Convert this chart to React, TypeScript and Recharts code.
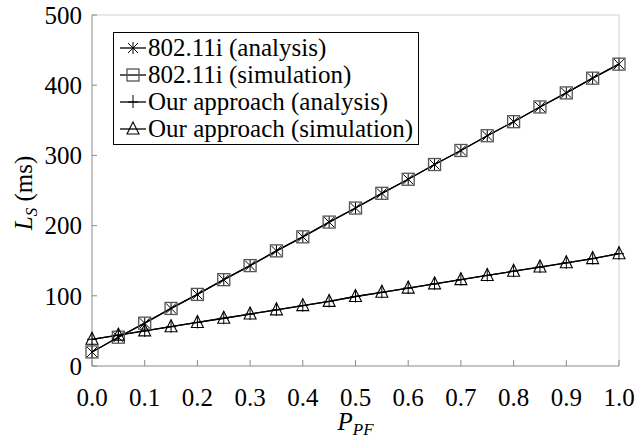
import { LineChart, Line, XAxis, YAxis, ReferenceLine } from "recharts";

const P_PF = [0, 0.05, 0.1, 0.15, 0.2, 0.25, 0.3, 0.35, 0.4, 0.45, 0.5, 0.55, 0.6, 0.65, 0.7, 0.75, 0.8, 0.85, 0.9, 0.95, 1.0];
const IEEE_ANALYSIS = [20, 41, 61, 82, 102, 123, 143, 164, 184, 205, 225, 246, 266, 287, 307, 328, 348, 369, 389, 410, 430];
const IEEE_SIMULATION = [20, 41, 61, 82, 102, 123, 143, 164, 184, 205, 225, 246, 266, 287, 307, 328, 348, 369, 389, 410, 430];
const OUR_ANALYSIS = [38, 44, 50, 56, 62, 68, 74, 80, 86, 92, 99, 105, 111, 117, 123, 129, 135, 141, 147, 153, 160];
const OUR_SIMULATION = [38, 44, 50, 56, 62, 68, 74, 80, 86, 92, 99, 105, 111, 117, 123, 129, 135, 141, 147, 153, 160];

const X_TICKS = [0, 0.1, 0.2, 0.3, 0.4, 0.5, 0.6, 0.7, 0.8, 0.9, 1.0];
const Y_TICKS = [0, 100, 200, 300, 400, 500];

const FONT = '"Liberation Serif", "Times New Roman", serif';
const AXIS_GRAY = "#8a8a8a";

const data = P_PF.map((p, i) => ({
  p,
  ieeeA: IEEE_ANALYSIS[i],
  ieeeS: IEEE_SIMULATION[i],
  ourA: OUR_ANALYSIS[i],
  ourS: OUR_SIMULATION[i],
}));

type Mk = { cx: number; cy: number };

function Asterisk({ cx, cy }: Mk) {
  return (
    <g stroke="#000" strokeWidth={1}>
      <line x1={cx} y1={cy - 6} x2={cx} y2={cy + 6} />
      <line x1={cx - 5} y1={cy - 5} x2={cx + 5} y2={cy + 5} />
      <line x1={cx - 5} y1={cy + 5} x2={cx + 5} y2={cy - 5} />
    </g>
  );
}

function Square({ cx, cy }: Mk) {
  return <rect x={cx - 6} y={cy - 6} width={12} height={12} fill="none" stroke="#555" strokeWidth={1.3} />;
}

function Plus({ cx, cy }: Mk) {
  return (
    <g stroke="#000" strokeWidth={1}>
      <line x1={cx} y1={cy - 7} x2={cx} y2={cy + 6} />
      <line x1={cx - 5} y1={cy} x2={cx + 5} y2={cy} />
    </g>
  );
}

function Triangle({ cx, cy }: Mk) {
  return (
    <path
      d={`M${cx},${cy - 7} L${cx + 6},${cy + 5} L${cx - 6},${cy + 5} Z`}
      fill="none"
      stroke="#000"
      strokeWidth={1.1}
    />
  );
}

const SERIES = [
  { key: "ieeeA", name: "802.11i (analysis)", Marker: Asterisk },
  { key: "ieeeS", name: "802.11i (simulation)", Marker: Square },
  { key: "ourA", name: "Our approach (analysis)", Marker: Plus },
  { key: "ourS", name: "Our approach (simulation)", Marker: Triangle },
];

function XLabel(props: any) {
  const vb = props.viewBox || {};
  const cx = vb.x + vb.width / 2;
  return (
    <text x={cx} y={430} textAnchor="middle" fontFamily={FONT} fontSize={25} fontStyle="italic" fill="#000">
      P
      <tspan fontSize={17} dy={5}>PF</tspan>
    </text>
  );
}

function YLabel() {
  return (
    <text transform="translate(32,193) rotate(-90)" textAnchor="middle" fontFamily={FONT} fontSize={25} fill="#000">
      <tspan fontStyle="italic">L</tspan>
      <tspan fontStyle="italic" fontSize={17} dy={5}>S</tspan>
      <tspan dy={-5}> (ms)</tspan>
    </text>
  );
}

function LegendBox() {
  return (
    <div
      style={{
        position: "absolute",
        left: 113,
        top: 32,
        width: 297,
        border: "1px solid #000",
        background: "#fff",
        padding: "1px 3px 2px 4px",
        fontFamily: FONT,
        fontSize: 25,
        color: "#000",
      }}
    >
      {SERIES.map(({ key, name, Marker }) => (
        <div key={key} style={{ display: "flex", alignItems: "center", height: 27, whiteSpace: "nowrap" }}>
          <svg width={30} height={20} style={{ flex: "none" }}>
            <line x1={2} y1={10} x2={28} y2={10} stroke="#000" strokeWidth={1.3} />
            <Marker cx={15} cy={10} />
          </svg>
          <span>{name}</span>
        </div>
      ))}
    </div>
  );
}

export default function App() {
  return (
    <div style={{ position: "absolute", left: 0, top: 0, width: 640, height: 444, background: "#fff" }}>
      <LineChart width={640} height={444} data={data} margin={{ top: 15, right: 21, bottom: 28, left: 32 }}>
        <XAxis
          dataKey="p"
          type="number"
          domain={[0, 1]}
          ticks={X_TICKS}
          tickFormatter={(v: number) => v.toFixed(1)}
          height={50}
          stroke={AXIS_GRAY}
          tickSize={-6}
          tickMargin={28}
          tick={{ fill: "#000", fontSize: 25, fontFamily: FONT }}
          interval={0}
          label={<XLabel />}
        />
        <YAxis
          type="number"
          domain={[0, 500]}
          ticks={Y_TICKS}
          width={60}
          stroke={AXIS_GRAY}
          tickSize={-5}
          tickMargin={15}
          tick={{ fill: "#000", fontSize: 25, fontFamily: FONT }}
          interval={0}
          label={<YLabel />}
        />
        <ReferenceLine y={500} stroke="#cfcfcf" strokeWidth={1} />
        <ReferenceLine x={1} stroke="#cfcfcf" strokeWidth={1} />
        {SERIES.map(({ key, name, Marker }) => (
          <Line
            key={key}
            dataKey={key}
            name={name}
            stroke="#000"
            strokeWidth={1.3}
            isAnimationActive={false}
            dot={(p: any) => <Marker key={`${key}-${p.index}`} cx={p.cx} cy={p.cy} />}
            activeDot={false}
          />
        ))}
      </LineChart>
      <LegendBox />
    </div>
  );
}
